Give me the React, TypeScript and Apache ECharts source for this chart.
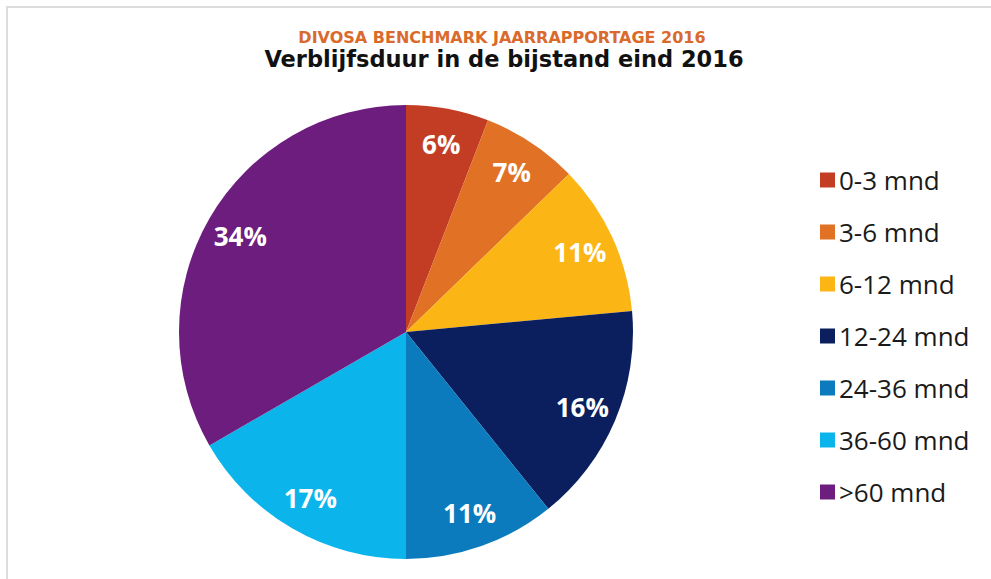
import React, { useEffect, useRef } from "react";
import * as echarts from "echarts";

const categories = ["0-3 mnd", "3-6 mnd", "6-12 mnd", "12-24 mnd", "24-36 mnd", "36-60 mnd", ">60 mnd"];
const values = [6, 7, 11, 16, 11, 17, 34];
const colors = ["#c33d24", "#e07125", "#fbb616", "#0b1f5e", "#0b7bbd", "#0bb5ec", "#6c1d7e"];
const supTitle = "DIVOSA BENCHMARK JAARRAPPORTAGE 2016";
const mainTitle = "Verblijfsduur in de bijstand eind 2016";

export default function App() {
  const ref = useRef<HTMLDivElement>(null);
  useEffect(() => {
    if (!ref.current) return;
    const chart = echarts.init(ref.current, null, { renderer: "svg" });
    const R = 227;
    chart.setOption({
      animation: false,
      backgroundColor: "#ffffff",
      graphic: [
        {
          type: "rect",
          shape: { x: 7, y: 7, width: 1100, height: 700 },
          style: { fill: "none", stroke: "#dcdcdc", lineWidth: 2 },
          silent: true,
        },
        {
          type: "text",
          x: 502,
          y: 37,
          style: {
            text: supTitle,
            fill: "#d96a2c",
            font: "bold 16px 'DejaVu Sans'",
            align: "center",
            verticalAlign: "middle",
          },
        },
        {
          type: "text",
          x: 504,
          y: 59,
          style: {
            text: mainTitle,
            fill: "#111111",
            font: "bold 22.5px 'DejaVu Sans'",
            align: "center",
            verticalAlign: "middle",
          },
        },
      ],
      legend: {
        data: categories,
        orient: "vertical",
        left: 815,
        top: 162,
        itemWidth: 15,
        itemHeight: 15,
        itemGap: 26,
        icon: "rect",
        textStyle: {
          fontFamily: "Open Sans",
          fontSize: 26,
          lineHeight: 26,
          color: "#1a1a1a",
          padding: [0, 0, 0, -1],
        },
      },
      series: [
        {
          type: "pie",
          center: [406, 332],
          radius: [0, R],
          startAngle: 90,
          clockwise: true,
          label: { show: false },
          labelLine: { show: false },
          itemStyle: { borderWidth: 0 },
          data: categories.map((c, i) => ({ name: c, value: values[i], itemStyle: { color: colors[i] } })),
        },
        {
          type: "pie",
          center: [406, 332],
          radius: [R * 0.66, R],
          startAngle: 90,
          clockwise: true,
          silent: true,
          legendHoverLink: false,
          label: {
            show: true,
            position: "inside",
            formatter: "{c}%",
            color: "#ffffff",
            fontFamily: "Open Sans",
            fontWeight: "bold",
            fontSize: 26,
          },
          labelLine: { show: false },
          itemStyle: { color: "rgba(0,0,0,0)", borderWidth: 0 },
          data: categories.map((c, i) => ({ name: "lbl" + i, value: values[i] })),
        },
      ],
    });
    return () => chart.dispose();
  }, []);
  return <div ref={ref} style={{ position: "fixed", left: 0, top: 0, width: 991, height: 579 }} />;
}
